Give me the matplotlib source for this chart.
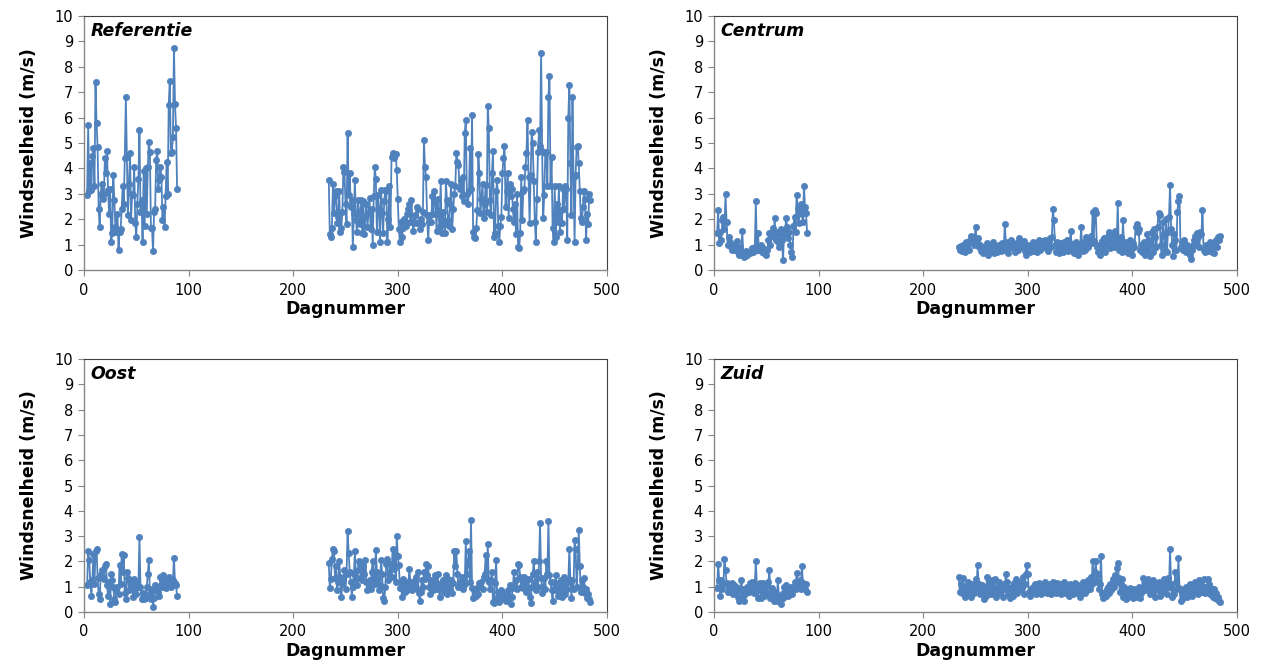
import numpy as np
import matplotlib
matplotlib.use("Agg")
import matplotlib.pyplot as plt

plt.rcParams['font.family'] = ['DejaVu Sans']

# ---- data -----------------------------------------------------------
seg1_start = 3     # first day number of the first measuring period
seg2_start = 234   # first day number of the second measuring period

ref_seg1 = [2.95, 5.7, 3.1, 4.2, 3.15, 4.5, 4.8, 3.3, 7.4,
            5.8, 4.85, 2.4, 1.7, 3.0, 3.4, 2.8, 3.0, 4.4, 3.8, 4.7, 3.15, 2.2, 3.2, 1.1,
            1.45, 3.75, 2.75, 1.7, 1.5, 2.2, 0.8,
            1.5, 1.6, 2.4, 3.3, 2.6, 4.4, 6.8,
            4.45, 2.15, 3.4, 4.6, 1.95, 3.0, 2.95, 4.05, 1.85, 1.3, 2.6, 3.6, 5.5,
            2.3, 2.75, 1.1, 3.9, 1.75, 4.0, 2.2, 4.05, 5.05,
            4.65, 1.65, 1.65, 0.75,
            2.3, 2.4, 4.35, 4.7, 3.2, 3.55, 4.05, 3.65, 1.95, 2.5, 1.7, 2.9, 4.25, 3.0, 6.5, 7.45,
            4.6, 4.65, 5.25, 8.75, 6.55, 5.6, 3.2]
ref_seg2 = [3.55, 1.4, 1.3, 1.65, 3.4, 2.25, 2.9, 3.1, 1.85, 2.1, 3.1, 1.5, 1.65, 2.3, 4.05, 3.85, 2.6, 1.8, 5.4,
            2.95, 3.8, 2.5, 2.75, 0.9,
            2.25, 3.55, 1.95, 1.5, 2.75, 2.25, 1.8, 2.75, 1.45, 2.7, 1.4, 2.1, 2.6, 1.7, 2.25, 2.85, 1.6, 2.4, 1.0,
            2.9, 4.05, 3.6, 1.5, 2.95, 2.4, 1.1, 3.15, 2.25, 1.45, 2.7, 3.15, 3.1, 1.1, 2.0, 3.3, 1.7, 4.45, 4.6,
            4.4, 4.55, 4.55, 3.95, 2.8, 1.6, 1.1,
            1.9, 1.3, 1.65, 2.0, 1.9, 1.75, 2.2, 2.4, 2.6, 1.9, 2.75, 1.9, 1.55, 2.15, 1.85, 2.5, 2.4, 1.85,
            1.6, 2.0, 1.8, 2.3, 5.1,
            4.05, 3.65, 2.15, 1.2, 1.9, 2.15, 1.9, 2.9, 2.2, 3.1, 2.75, 1.55, 2.8, 2.2, 1.75, 3.5, 1.45, 2.3,
            1.8, 1.45, 3.5, 2.75, 1.95, 1.75, 2.6, 3.4, 1.6, 2.4, 3.0, 3.3, 4.6,
            4.25, 4.15, 3.2, 3.55, 2.9, 3.65, 2.7, 5.4, 5.9,
            3.0, 2.6, 3.1, 4.8, 3.2, 6.1,
            1.5, 1.3, 1.25, 1.65, 2.35, 4.55, 3.8, 2.25, 2.8, 3.4, 2.05, 2.6, 3.35, 2.3, 6.45,
            5.6, 2.75, 2.15, 3.8, 4.7, 1.3, 1.45, 3.1, 3.55, 1.75, 1.1, 1.75, 2.1, 3.8, 4.4, 4.9, 2.5, 3.1,
            3.8, 2.05, 3.4, 2.9, 3.2, 2.4, 1.9, 2.6, 1.4, 3.0, 0.9,
            0.85, 1.45, 3.65, 1.95, 3.1, 3.2, 4.05, 4.6, 5.9, 3.65, 1.85, 3.75, 5.45, 5.0, 3.5, 1.9, 1.1,
            2.8, 4.65, 5.5, 4.9, 8.55,
            4.7, 2.05, 2.95, 4.6, 4.65, 3.3, 6.8, 7.65,
            3.3, 4.45, 1.65, 1.1, 3.3, 1.3, 2.6, 1.9, 3.3, 1.5, 2.35, 1.85, 3.2, 2.4, 3.3, 3.2, 1.2, 6.0, 7.3,
            4.2, 2.15, 6.8, 3.65, 1.1, 3.75, 4.85, 4.9, 4.2, 3.1, 2.05, 1.9, 2.5, 3.1, 2.8, 1.2, 2.2, 1.8, 3.0, 2.75]

cen_seg1 = [1.45, 2.35, 1.05, 1.5, 1.2, 1.95, 2.1, 1.6, 3.0,
            1.9, 1.0, 1.3, 1.1, 0.9, 0.8, 1.0, 0.85, 0.8, 0.9, 1.15, 0.7, 0.6, 0.9, 0.7, 1.55, 0.6, 0.5,
            0.55, 0.75, 0.6, 0.7, 0.65, 0.7, 0.85, 0.7, 0.75, 0.9, 2.7,
            0.8, 1.45, 0.8, 0.9, 1.0, 0.7, 0.85, 0.65, 0.8, 0.6, 0.8, 1.2, 1.45, 1.0, 1.5, 1.65, 1.3, 2.05,
            1.2, 1.5, 1.1, 0.9, 1.4, 1.6, 1.2, 0.4,
            1.4, 1.55, 2.05, 1.7, 1.25, 1.5, 1.0, 0.7, 0.5, 1.75, 2.1, 1.5, 2.95, 2.45, 1.85, 2.3, 2.6, 2.2,
            1.9, 3.3,
            2.5, 2.25, 1.45]
cen_seg2 = [0.9, 0.8, 0.95, 0.75, 1.0, 0.85, 0.7, 1.1, 0.9, 1.05,
            0.8, 1.2, 1.35, 1.1, 1.3, 1.0, 1.7, 1.2, 1.25, 0.9,
            1.0, 0.75, 0.8, 0.65, 0.9, 0.7, 0.85, 1.05, 0.6, 0.8,
            1.0, 0.75, 0.9, 1.1, 0.65, 0.8, 0.95, 0.7, 1.0, 0.85,
            0.75, 1.05, 0.9, 0.8, 1.8, 1.1, 0.9, 0.65, 0.85, 1.0,
            1.2, 1.1, 1.0, 0.85, 0.7, 0.95, 1.05, 0.8, 1.25, 1.1,
            1.0, 0.9, 1.15, 0.75, 0.6, 0.85, 1.0, 0.9, 0.7, 0.8,
            0.95, 1.1, 0.75, 0.85, 1.05, 0.7, 0.9, 1.2, 0.8, 1.15,
            0.9, 1.1, 1.2, 0.85, 1.0, 0.75, 1.15, 1.25, 0.9, 1.3,
            2.4, 1.95, 1.0, 0.7, 1.1, 0.9, 0.65, 1.05, 0.8, 0.95,
            0.7, 1.1, 0.85, 1.2, 0.75, 0.9, 1.05, 1.55, 0.8, 1.0,
            0.65, 0.9, 1.1, 0.75, 0.6, 1.0, 0.85, 1.7, 0.9, 0.75,
            1.1, 0.8, 1.3, 1.0, 0.9, 1.2, 1.35, 1.05, 2.3, 1.15,
            2.35, 2.25, 0.9, 0.7, 1.0, 0.6, 0.8, 1.15, 0.9, 1.25,
            0.7, 1.1, 1.3, 1.0, 1.5, 0.85, 1.4, 1.2, 0.9, 1.55,
            1.3, 1.1, 2.65, 0.8, 1.0, 1.3, 0.7, 1.95, 0.9, 1.1,
            0.75, 0.9, 0.65, 1.0, 1.2, 0.8, 0.6, 1.05, 0.9, 1.7,
            1.8, 1.5, 1.6, 0.8, 1.0, 0.7, 0.9, 1.1, 0.6, 0.85,
            1.4, 0.7, 1.2, 0.55, 1.0, 1.5, 0.7, 1.6, 1.3, 0.9,
            1.7, 2.25, 2.15, 1.0, 0.6, 1.9, 1.4, 0.8, 2.0, 0.7,
            1.5, 2.1, 3.35, 1.6, 1.0, 0.55, 1.4, 1.2, 0.8, 2.3,
            2.7, 2.9, 0.9, 1.1, 0.8, 1.2, 0.9, 0.7, 1.0, 0.85,
            0.75, 0.6, 0.45, 0.8, 1.0, 1.2, 1.35, 1.0, 1.45, 1.3,
            0.9, 1.5, 1.4, 2.35, 0.8, 0.7, 1.0, 0.85, 0.75, 0.9,
            1.1, 0.8, 0.7, 0.9, 0.65, 1.05, 1.2, 0.9, 1.3, 1.2,
            1.35]

oost_seg1 = [1.05, 2.4, 2.05, 1.2, 0.65, 1.25, 2.3, 1.1, 2.4, 2.5,
             1.35, 0.7, 0.5, 1.5, 1.65, 1.4, 1.3, 1.8, 1.9, 1.05, 0.65, 1.2, 0.3, 1.5,
             1.25, 1.0, 0.5, 0.4, 0.85, 1.0, 0.7, 1.85, 1.1, 2.3, 1.6, 2.25, 0.75, 0.5,
             1.6, 1.35, 0.85, 1.25, 0.95, 1.05, 0.6, 1.3, 0.9, 0.7, 1.2, 1.0, 2.95,
             1.0, 0.5, 0.75, 0.5, 0.65, 0.55, 1.0, 1.5, 2.05, 0.75, 0.5, 0.9, 0.2,
             0.55, 1.05, 0.95, 0.85, 0.8, 0.65, 1.4, 1.05, 1.0, 1.45, 1.2, 0.95, 1.3, 1.1, 1.4, 1.25,
             1.0, 1.2, 1.25, 2.15, 1.15, 1.05, 0.65]
oost_seg2 = [1.95, 0.95, 1.3, 2.1, 2.5, 2.4, 1.35, 1.8, 0.85, 1.2,
             2.0, 1.4, 0.6, 1.1, 1.25, 1.65, 0.9, 1.5, 3.2, 2.35,
             1.6, 1.2, 0.6, 1.0, 1.5, 2.4, 1.3, 1.05, 1.65, 2.0,
             1.9, 1.4, 1.25, 1.8, 1.5, 2.05, 1.2, 0.85, 1.1, 1.25,
             0.9, 1.6, 2.0, 1.4, 1.1, 2.45, 1.6, 1.3, 0.85, 1.05,
             2.05, 1.5, 0.55, 0.45, 1.0, 1.9, 2.1, 1.25, 1.5, 1.9,
             1.4, 2.5, 1.7, 2.3, 1.2, 3.0, 2.2, 1.85, 0.95, 1.2,
             0.6, 1.3, 1.0, 0.8, 1.2, 0.85, 1.05, 1.7, 1.2, 0.95,
             0.85, 1.1, 1.25, 1.4, 0.9, 1.6, 0.75, 0.45, 0.8, 1.25,
             1.0, 1.6, 1.3, 1.9, 1.45, 1.8, 1.0, 0.7, 1.25, 1.1,
             0.85, 1.2, 1.45, 0.9, 1.5, 1.1, 0.6, 0.95, 1.0, 1.25,
             0.8, 1.1, 1.45, 0.7, 1.3, 1.0, 0.9, 1.25, 0.75, 1.15,
             2.4, 1.8, 2.4, 1.5, 1.0, 1.2, 1.0, 1.4, 0.9, 1.3,
             1.1, 2.8, 1.5, 1.9, 2.4, 1.2, 3.65, 0.95, 0.55, 0.6,
             0.8, 0.65, 0.95, 0.7, 1.15, 1.0, 1.2, 0.9, 1.4, 1.5,
             2.25, 1.3, 2.7, 1.2, 0.9, 1.25, 1.6, 0.4, 0.35, 1.15,
             2.05, 0.55, 0.8, 0.4, 0.8, 0.85, 0.6, 0.75, 0.5, 0.45,
             0.7, 0.85, 0.6, 1.05, 0.3, 0.6, 0.95, 1.6, 1.0, 1.25,
             0.9, 1.9, 1.85, 1.4, 1.0, 1.25, 0.95, 1.4, 1.15, 0.8,
             0.95, 1.3, 0.6, 0.35, 1.0, 1.5, 2.0, 1.2, 0.85, 1.6,
             1.0, 2.0, 3.5, 1.35, 0.75, 1.0, 1.35, 0.9, 2.0, 1.5,
             3.6, 1.45, 1.2, 0.85, 0.45, 1.2, 0.85, 1.45, 1.0, 0.65,
             1.15, 0.8, 1.25, 0.6, 1.0, 1.4, 0.7, 1.25, 0.9, 1.2,
             2.5, 1.25, 0.55, 1.25, 0.9, 2.85, 2.5, 1.0, 1.8, 3.25,
             1.8, 0.8, 1.25, 1.0, 1.35, 0.75, 0.9, 0.55, 0.7, 0.5,
             0.4]

zuid_seg1 = [0.95, 1.9, 1.25, 0.65, 1.25, 0.9, 1.1, 2.1, 1.65, 1.15,
             0.8, 1.0, 1.1, 0.95, 1.15, 0.7, 1.05, 0.8, 1.0, 0.95, 0.6, 0.45, 0.85, 1.25,
             0.9, 0.65, 0.45, 0.7, 0.85, 1.0, 0.8, 1.15, 0.9, 1.2, 0.95, 0.75, 1.1, 2.0,
             1.05, 0.55, 0.9, 1.15, 0.55, 0.8, 1.15, 0.65, 0.9, 1.05, 0.75, 1.2, 1.65,
             0.55, 0.95, 0.7, 0.45, 0.8, 0.6, 0.45, 1.25, 0.65, 0.5, 0.3, 0.7, 0.55,
             1.0, 0.85, 1.05, 0.8, 0.65, 0.9, 0.8, 1.0, 0.7, 0.95, 1.2, 0.9, 1.55, 1.15, 1.0, 1.25,
             0.9, 1.8, 1.15, 1.0, 0.9, 1.1, 0.8]
zuid_seg2 = [1.4, 0.8, 1.1, 0.75, 1.35, 0.9, 0.6, 1.0, 0.7, 1.2,
             0.85, 1.05, 0.6, 0.9, 1.1, 0.75, 1.3, 0.95, 1.85, 1.1,
             0.7, 0.9, 1.05, 0.8, 0.5, 1.0, 0.65, 1.4, 0.85, 1.15,
             0.9, 0.7, 1.25, 1.0, 0.8, 1.3, 0.6, 0.95, 1.2, 0.75,
             1.05, 0.85, 0.6, 1.1, 0.9, 1.5, 1.2, 0.7, 0.95, 0.55,
             0.8, 1.0, 0.65, 1.15, 0.9, 1.3, 0.75, 1.0, 0.85, 1.2,
             0.95, 1.4, 0.7, 1.1, 1.5, 1.85, 1.5, 0.8, 0.65, 0.9,
             0.75, 1.0, 0.85, 1.1, 0.7, 0.95, 0.8, 1.15, 0.9, 0.7,
             1.0, 0.8, 1.2, 0.9, 0.75, 1.05, 0.85, 1.1, 0.7, 0.95,
             1.2, 0.85, 1.0, 0.75, 1.15, 0.9, 0.8, 1.1, 0.7, 1.0,
             0.85, 1.2, 0.75, 1.05, 0.9, 0.65, 1.1, 0.8, 1.0, 0.7,
             0.9, 1.15, 0.85, 0.75, 1.05, 0.9, 0.6, 1.0, 0.8, 1.2,
             0.95, 0.75, 1.1, 0.85, 1.25, 0.9, 1.4, 1.1, 2.0, 1.3,
             1.6, 2.0, 1.2, 1.5, 0.9, 1.1, 2.2, 0.7, 0.55, 0.6,
             0.8, 0.65, 0.9, 1.0, 0.75, 1.1, 0.85, 1.3, 1.0, 1.45,
             1.2, 1.75, 1.95, 1.35, 0.8, 1.1, 1.3, 0.6, 1.0, 0.7,
             0.5, 0.85, 0.6, 0.75, 0.95, 0.65, 0.8, 0.55, 0.9, 0.7,
             0.6, 0.8, 1.0, 0.55, 0.75, 0.9, 1.35, 1.0, 0.85, 1.2,
             0.95, 1.3, 1.15, 0.7, 1.0, 0.8, 1.25, 0.9, 0.6, 1.1,
             0.85, 1.2, 0.65, 1.0, 0.75, 0.9, 1.3, 0.95, 1.1, 0.7,
             1.35, 1.0, 2.5, 1.1, 0.6, 0.9, 0.7, 1.6, 1.2, 0.9,
             2.15, 0.95, 0.45, 0.8, 0.55, 0.9, 0.7, 1.0, 0.6, 0.85,
             0.75, 1.1, 0.9, 0.65, 1.05, 0.8, 1.2, 0.95, 1.05, 0.7,
             1.25, 0.9, 1.05, 0.8, 1.3, 0.75, 1.0, 0.85, 1.3, 1.1,
             0.7, 0.95, 0.8, 0.6, 0.9, 0.55, 0.75, 0.5, 0.6, 0.45,
             0.4]

titles = ["Referentie", "Centrum", "Oost", "Zuid"]
series = [(ref_seg1, ref_seg2), (cen_seg1, cen_seg2),
          (oost_seg1, oost_seg2), (zuid_seg1, zuid_seg2)]
xticks = [0, 100, 200, 300, 400, 500]
yticks = list(range(0, 11))
xlabel = "Dagnummer"
ylabel = "Windsnelheid (m/s)"

# ---- figure ---------------------------------------------------------
W, H = 1267, 671
fig = plt.figure(figsize=(W / 100, H / 100), dpi=100)

def frac_box(l, r, t, b):
    return [l / W, 1 - b / H, (r - l) / W, (b - t) / H]

boxes = [frac_box(84, 607, 16, 270), frac_box(714, 1237, 16, 270),
         frac_box(84, 607, 359, 612), frac_box(714, 1237, 359, 612)]

color = '#4F81BD'
for box, title, (s1, s2) in zip(boxes, titles, series):
    ax = fig.add_axes(box)
    d1 = np.arange(seg1_start, seg1_start + len(s1))
    d2 = np.arange(seg2_start, seg2_start + len(s2))
    for d, v in ((d1, s1), (d2, s2)):
        ax.plot(d, v, color=color, lw=1.3, marker='o', ms=4.5,
                mfc=color, mec=color, mew=0.5)
    ax.set_xlim(0, 500)
    ax.set_ylim(0, 10)
    ax.set_xticks(xticks)
    ax.set_yticks(yticks)
    ax.tick_params(direction='out', length=4, width=0.8, color='#868686',
                   labelsize=10.5)
    ax.tick_params(axis='x', pad=5)
    ax.tick_params(axis='y', pad=4)
    for side in ('left', 'bottom'):
        ax.spines[side].set_color('#868686')
        ax.spines[side].set_linewidth(1.0)
    for side in ('top', 'right'):
        ax.spines[side].set_color('#404040')
        ax.spines[side].set_linewidth(0.8)
    ax.set_xlabel(xlabel, fontsize=12.5, fontweight='bold', labelpad=2)
    ax.set_ylabel(ylabel, fontsize=12.5, fontweight='bold', labelpad=12)
    ax.text(0.013, 0.94, title, transform=ax.transAxes, fontsize=12.5,
            fontweight='bold', fontstyle='italic', ha='left', va='center')

fig.savefig('out.png', dpi=100)
